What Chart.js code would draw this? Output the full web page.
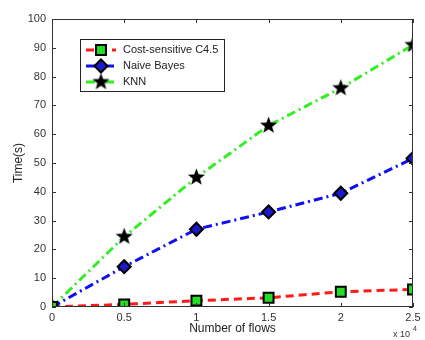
<!DOCTYPE html>
<html lang="en">
<head>
  <meta charset="UTF-8">
  <title>Time vs Number of flows</title>
  <script src="https://cdn.jsdelivr.net/npm/chart.js"></script>
  <style>
    body { margin: 0; background: #fff; }
    #wrap { width: 425px; height: 340px; }
  </style>
</head>
<body>
<div id="wrap"><canvas id="chart" width="425" height="340"></canvas></div>
<script>
  // data (x in units of 10^4 flows)
  const flows = [0, 0.5, 1, 1.5, 2, 2.5];
  const costC45 = [0, 0.9, 2.2, 3.2, 5.3, 6.1];
  const naiveBayes = [0, 14, 27, 33, 39.5, 51.6];
  const knn = [0, 24.4, 45, 63, 76, 91];
  const seriesNames = ['Cost-sensitive C4.5', 'Naive Bayes', 'KNN'];
  const xTicks = [0, 0.5, 1, 1.5, 2, 2.5];

  // filled black star used as point marker
  function makeStar(size) {
    const c = document.createElement('canvas');
    c.width = size; c.height = size;
    const g = c.getContext('2d');
    const cx = size / 2, cy = size / 2, R = size / 2 - 0.5, r = R * 0.42;
    g.beginPath();
    for (let i = 0; i < 10; i++) {
      const a = -Math.PI / 2 + i * Math.PI / 5;
      const rr = i % 2 ? r : R;
      g.lineTo(cx + rr * Math.cos(a), cy + rr * Math.sin(a));
    }
    g.closePath();
    g.fillStyle = '#000';
    g.fill();
    return c;
  }
  const star = makeStar(19);

  const pts = arr => flows.map((x, i) => ({ x, y: arr[i] }));

  const datasets = [
    { label: seriesNames[0], data: pts(costC45), borderColor: '#ff1a1a', borderDash: [8, 5],
      pointStyle: 'rect', pointRadius: 7, pointBackgroundColor: '#22dd22', pointBorderColor: '#000', pointBorderWidth: 2 },
    { label: seriesNames[1], data: pts(naiveBayes), borderColor: '#1010ee', borderDash: [9, 4, 2, 4],
      pointStyle: 'rectRot', pointRadius: 6.5, pointBackgroundColor: '#1a1acc', pointBorderColor: '#000', pointBorderWidth: 2 },
    { label: seriesNames[2], data: pts(knn), borderColor: '#33ee22', borderDash: [9, 4, 2, 4],
      pointStyle: star, pointRadius: 9 }
  ];
  datasets.forEach(d => { d.borderWidth = 3; d.fill = false; d.tension = 0; });

  const frame = {
    id: 'frame',
    afterDraw(chart) {
      const { ctx, chartArea: a, scales } = chart;
      ctx.save();
      ctx.strokeStyle = '#333';
      ctx.lineWidth = 1;
      ctx.strokeRect(a.left + 0.5, a.top + 0.5, a.right - a.left - 1, a.bottom - a.top - 1);
      const t = 4;
      ctx.beginPath();
      xTicks.forEach(v => {
        const px = Math.round(scales.x.getPixelForValue(v)) + 0.5;
        ctx.moveTo(px, a.bottom); ctx.lineTo(px, a.bottom - t);
        ctx.moveTo(px, a.top); ctx.lineTo(px, a.top + t);
      });
      for (let v = 0; v <= 100; v += 10) {
        const py = Math.round(scales.y.getPixelForValue(v)) + 0.5;
        ctx.moveTo(a.left, py); ctx.lineTo(a.left + t, py);
        ctx.moveTo(a.right, py); ctx.lineTo(a.right - t, py);
      }
      ctx.stroke();

      // x 10^4 multiplier
      ctx.fillStyle = '#333';
      ctx.font = '9px Arial';
      ctx.textBaseline = 'alphabetic';
      ctx.fillText('x 10', 393, 337);
      ctx.font = '7px Arial';
      ctx.fillText('4', 413, 331);

      // legend box
      const lx = 80, ly = 39, lw = 144, lh = 52;
      ctx.fillStyle = '#fff';
      ctx.fillRect(lx, ly, lw, lh);
      ctx.strokeStyle = '#222';
      ctx.strokeRect(lx + 0.5, ly + 0.5, lw, lh);
      ctx.font = '11px Arial';
      ctx.textBaseline = 'middle';
      chart.data.datasets.forEach((d, i) => {
        const yy = ly + 11 + i * 16;
        ctx.save();
        ctx.strokeStyle = d.borderColor;
        ctx.lineWidth = 3;
        ctx.setLineDash(i === 0 ? [8, 5] : [9, 4, 2, 4]);
        ctx.beginPath();
        ctx.moveTo(lx + 6, yy); ctx.lineTo(lx + 36, yy);
        ctx.stroke();
        ctx.restore();
        ctx.save();
        ctx.fillStyle = d.pointBackgroundColor || '#000';
        ctx.strokeStyle = '#000';
        ctx.lineWidth = 2;
        Chart.helpers.drawPoint(ctx, {
          pointStyle: d.pointStyle, radius: d.pointRadius, borderWidth: d.pointBorderWidth || 0
        }, lx + 21, yy);
        ctx.restore();
        ctx.fillStyle = '#222';
        ctx.fillText(d.label, lx + 43, yy);
      });
      ctx.restore();
    }
  };

  new Chart(document.getElementById('chart'), {
    type: 'line',
    data: { datasets },
    options: {
      responsive: false,
      animation: false,
      layout: { padding: { top: 19, right: 7, left: 11, bottom: 0 } },
      plugins: { legend: { display: false }, tooltip: { enabled: false } },
      scales: {
        x: {
          type: 'linear', min: 0, max: 2.5,
          afterBuildTicks: s => { s.ticks = xTicks.map(v => ({ value: v })); },
          afterFit: s => { s.height = 33; },
          grid: { display: false, drawTicks: false },
          border: { display: false },
          ticks: { color: '#333', font: { family: 'Arial', size: 11 }, padding: 4,
                   callback: v => String(v) },
          title: { display: true, text: 'Number of flows', color: '#222',
                   font: { family: 'Arial', size: 12 }, padding: { top: 0, bottom: 4 } }
        },
        y: {
          min: 0, max: 100,
          afterFit: s => { s.width = 41; },
          grid: { display: false, drawTicks: false },
          border: { display: false },
          ticks: { stepSize: 10, color: '#333', font: { family: 'Arial', size: 11 }, padding: 6 },
          title: { display: true, text: 'Time(s)', color: '#222',
                   font: { family: 'Arial', size: 12 }, padding: { top: 0, bottom: 0 } }
        }
      }
    },
    plugins: [frame]
  });
</script>
</body>
</html>
